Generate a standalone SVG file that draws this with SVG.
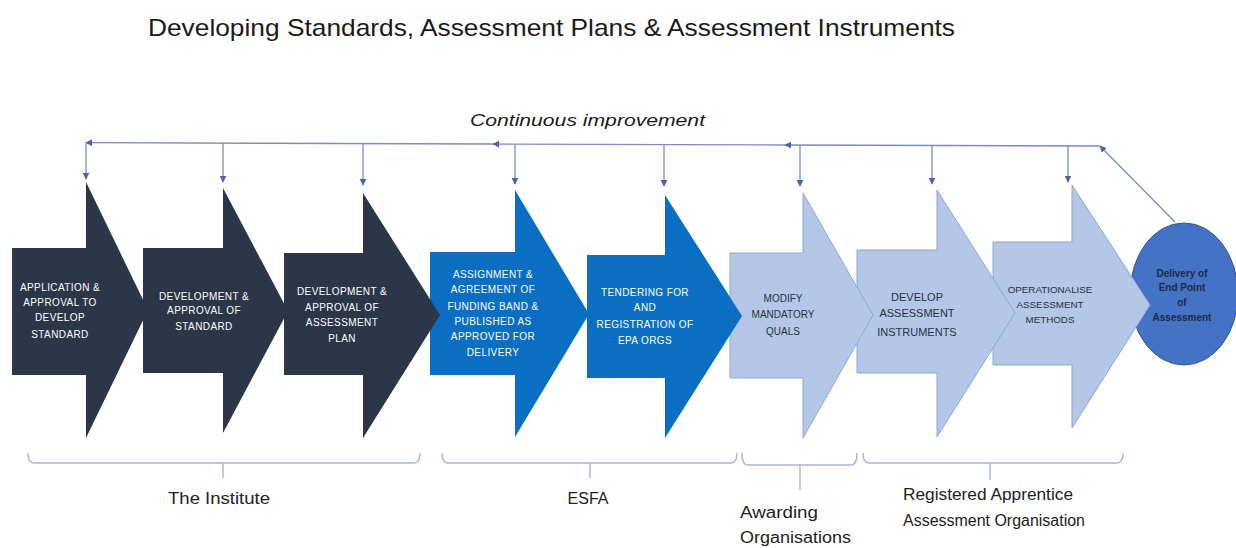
<svg xmlns="http://www.w3.org/2000/svg" width="1236" height="548" viewBox="0 0 1236 548">
<style>
.title{font-family:"Liberation Sans",Arial,sans-serif;font-size:24px;fill:#1a1a1a}
.ci{font-family:"Liberation Sans",Arial,sans-serif;font-size:17px;font-style:italic;fill:#1a1a1a}
.lbl{font-family:"Liberation Sans",Arial,sans-serif;font-size:16px;fill:#222}
.dark{fill:#2b3648}
.blue{fill:#0a6fc2}
.light{fill:#b4c7e7;stroke:#8ea6d3;stroke-width:1}
.wt{font-family:"Liberation Sans",Arial,sans-serif;font-size:10px;fill:#ffffff;text-anchor:middle;letter-spacing:0.4px}
.dt{font-family:"Liberation Sans",Arial,sans-serif;font-size:10px;fill:#2a3140;text-anchor:middle}
.ct{font-family:"Liberation Sans",Arial,sans-serif;font-size:10px;font-weight:bold;fill:#1c2a48;text-anchor:middle}
.conn{stroke:#7b8cc2;stroke-width:1.3;fill:none}
.brk{stroke:#a8b3d6;stroke-width:1.4;fill:none}
</style>
<defs>
<marker id="ah" viewBox="0 0 10 10" refX="9" refY="5" markerWidth="7" markerHeight="7" orient="auto" markerUnits="userSpaceOnUse">
<path d="M0,0 L10,5 L0,10 Z" fill="#4f63a3"/>
</marker>
</defs>

<text class="title" x="148" y="36" textLength="807" lengthAdjust="spacingAndGlyphs">Developing Standards, Assessment Plans &amp; Assessment Instruments</text>
<text class="ci" x="470" y="126" textLength="235" lengthAdjust="spacingAndGlyphs">Continuous improvement</text>

<g id="connectors">
<line class="conn" x1="1175" y1="222" x2="1100" y2="146" marker-end="url(#ah)"/>
<line class="conn" x1="1100" y1="146" x2="785" y2="145" marker-end="url(#ah)"/>
<line class="conn" x1="785" y1="145" x2="493" y2="144" marker-end="url(#ah)"/>
<line class="conn" x1="493" y1="144" x2="86" y2="142.7" marker-end="url(#ah)"/>
<line class="conn" x1="86" y1="142.7" x2="86" y2="179" marker-end="url(#ah)"/>
<line class="conn" x1="223" y1="143" x2="223" y2="182" marker-end="url(#ah)"/>
<line class="conn" x1="363" y1="143.5" x2="363" y2="185" marker-end="url(#ah)"/>
<line class="conn" x1="515" y1="144" x2="515" y2="184" marker-end="url(#ah)"/>
<line class="conn" x1="664" y1="144.5" x2="664" y2="186" marker-end="url(#ah)"/>
<line class="conn" x1="800" y1="145" x2="800" y2="186" marker-end="url(#ah)"/>
<line class="conn" x1="932" y1="145.5" x2="932" y2="184" marker-end="url(#ah)"/>
<line class="conn" x1="1068" y1="146" x2="1068" y2="182" marker-end="url(#ah)"/>
</g>

<g id="node-delivery">
<ellipse cx="1184" cy="294" rx="54" ry="71" fill="#4472c4" stroke="#2f5597" stroke-width="1"/>
<text class="ct" x="1182" y="277">Delivery of</text>
<text class="ct" x="1182" y="291">End Point</text>
<text class="ct" x="1182" y="306">of</text>
<text class="ct" x="1182" y="321">Assessment</text>
</g>

<g id="node-operationalise">
<polygon class="light" points="993,242 1072,242 1072,185 1150,305 1072,428 1072,365 993,365"/>
<text class="dt" x="1050" y="293" style="font-size:9.8px">OPERATIONALISE</text>
<text class="dt" x="1050" y="308" style="font-size:9.8px">ASSESSMENT</text>
<text class="dt" x="1050" y="323" style="font-size:9.8px">METHODS</text>
</g>

<g id="node-develop-instruments">
<polygon class="light" points="857,250 937,250 937,190 1015,313 937,437 937,373 857,373"/>
<text class="dt" x="917" y="301" style="font-size:11px">DEVELOP</text>
<text class="dt" x="917" y="317" style="font-size:11px">ASSESSMENT</text>
<text class="dt" x="917" y="336" style="font-size:11px">INSTRUMENTS</text>
</g>

<g id="node-modify-quals">
<polygon class="light" points="730,253 803,253 803,193 873,315 803,438 803,378 730,378"/>
<text class="dt" x="783" y="302">MODIFY</text>
<text class="dt" x="783" y="318">MANDATORY</text>
<text class="dt" x="783" y="335">QUALS</text>
</g>

<g id="node-tendering">
<polygon class="blue" points="587,255 665,255 665,195 742,316 665,438 665,378 587,378"/>
<text class="wt" x="645" y="296">TENDERING FOR</text>
<text class="wt" x="645" y="311">AND</text>
<text class="wt" x="645" y="328">REGISTRATION OF</text>
<text class="wt" x="645" y="344">EPA ORGS</text>
</g>

<g id="node-assignment">
<polygon class="blue" points="430,252 515,252 515,190 589,314 515,437 515,375 430,375"/>
<text class="wt" x="493" y="278">ASSIGNMENT &amp;</text>
<text class="wt" x="493" y="293">AGREEMENT OF</text>
<text class="wt" x="493" y="310">FUNDING BAND &amp;</text>
<text class="wt" x="493" y="325">PUBLISHED AS</text>
<text class="wt" x="493" y="340">APPROVED FOR</text>
<text class="wt" x="493" y="356">DELIVERY</text>
</g>

<g id="node-assessment-plan">
<polygon class="dark" points="284,253 363,253 363,193 440,315 363,438 363,375 284,375"/>
<text class="wt" x="342" y="295">DEVELOPMENT &amp;</text>
<text class="wt" x="342" y="311">APPROVAL OF</text>
<text class="wt" x="342" y="326">ASSESSMENT</text>
<text class="wt" x="342" y="342">PLAN</text>
</g>

<g id="node-standard">
<polygon class="dark" points="143,248 223,248 223,188 288,311 223,433 223,373 143,373"/>
<text class="wt" x="204" y="300">DEVELOPMENT &amp;</text>
<text class="wt" x="204" y="314">APPROVAL OF</text>
<text class="wt" x="204" y="330">STANDARD</text>
</g>

<g id="node-application">
<polygon class="dark" points="12,248 86,248 86,182 148,310 86,438 86,375 12,375"/>
<text class="wt" x="60" y="291">APPLICATION &amp;</text>
<text class="wt" x="60" y="306">APPROVAL TO</text>
<text class="wt" x="60" y="321">DEVELOP</text>
<text class="wt" x="60" y="338">STANDARD</text>
</g>

<g id="group-institute">
<path class="brk" d="M28,453 Q28,463 34,463 H414 Q420,463 420,453 M223,463 V478"/>
<text class="lbl" x="219" y="504" text-anchor="middle" textLength="102" lengthAdjust="spacingAndGlyphs">The Institute</text>
</g>
<g id="group-esfa">
<path class="brk" d="M442,453 Q442,463 448,463 H731 Q737,463 737,453 M590,463 V478"/>
<text class="lbl" x="588" y="504" text-anchor="middle">ESFA</text>
</g>
<g id="group-awarding">
<path class="brk" d="M742,453 Q742,465 748,465 H851 Q857,465 857,453 M800,465 V490"/>
<text class="lbl" x="740" y="518" textLength="78" lengthAdjust="spacingAndGlyphs">Awarding</text>
<text class="lbl" x="740" y="543" textLength="111" lengthAdjust="spacingAndGlyphs">Organisations</text>
</g>
<g id="group-raao">
<path class="brk" d="M863,453 Q863,463 869,463 H1117 Q1123,463 1123,453 M990,463 V480"/>
<text class="lbl" x="903" y="500" textLength="170" lengthAdjust="spacingAndGlyphs">Registered Apprentice</text>
<text class="lbl" x="903" y="526" textLength="182" lengthAdjust="spacingAndGlyphs">Assessment Organisation</text>
</g>
</svg>
